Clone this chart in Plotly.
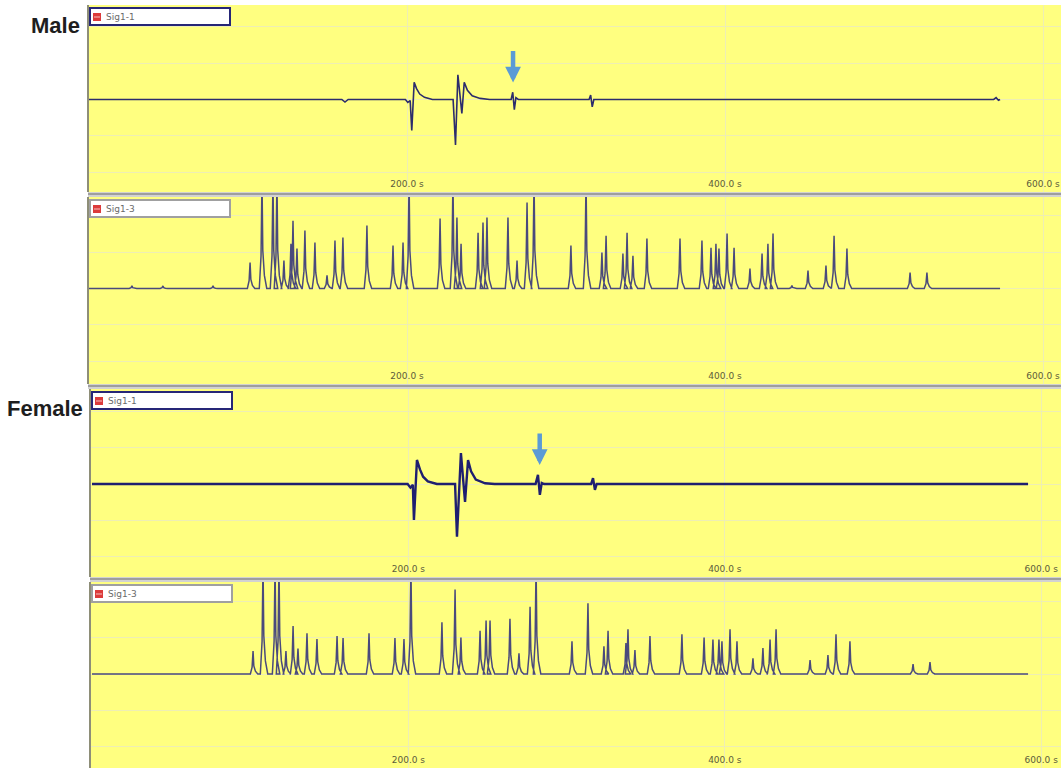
import plotly.graph_objects as go

# ---------------- data ----------------
# Male, Sig1-1: trace vertices (time in s, amplitude in grid divisions)
male_sig11_t = [0, 159, 161, 163, 199, 200.5, 202, 203, 204.5, 206, 208, 211, 216,
                229, 230.5, 232, 234.5, 236, 238, 241, 246, 252,
                265.5, 266.5, 267.5, 268.5, 270, 314.5, 315.5, 316.5, 317.5,
                569, 570.5, 572, 573]
male_sig11_v = [0, 0, -0.07, 0, 0, -0.08, -0.03, -0.85, 0.47, 0.30, 0.15, 0.06, 0.0,
                0, -1.25, 0.68, -0.38, 0.47, 0.25, 0.10, 0.03, 0,
                0, 0.20, -0.28, 0.05, 0, 0, 0.12, -0.20, 0,
                0, 0.05, -0.02, 0]

# Male, Sig1-3: peak times (s) and peak heights (divisions); 3.0 = off the top
male_sig13_peak_t = [27.0, 46.5, 78.0, 101.3, 108.8, 115.7, 118.2, 122.6, 127.0, 128.3,
                     130.8, 135.8, 142.1, 149.7, 154.7, 159.7, 174.8, 191.2, 197.5, 201.3,
                     220.8, 228.9, 231.4, 234.0, 244.7, 247.8, 250.3, 263.5, 269.2, 275.5,
                     279.9, 303.1, 312.6, 322.6, 325.2, 335.8, 338.4, 342.1, 350.9, 371.7,
                     385.5, 391.2, 394.3, 396.2, 401.3, 405.7, 415.7, 423.3, 427.0, 430.2,
                     442.1, 452.2, 463.5, 468.6, 476.7, 516.4, 527.0]
male_sig13_peak_h = [0.07, 0.07, 0.07, 0.71, 3.0, 3.0, 3.0, 0.77, 1.23, 1.86,
                     1.10, 1.59, 1.26, 0.36, 1.32, 1.40, 1.73, 1.18, 1.26, 3.0,
                     1.92, 3.0, 1.95, 1.23, 1.53, 1.81, 1.95, 1.95, 0.77, 2.36,
                     3.0, 1.18, 3.0, 0.99, 1.45, 0.96, 1.53, 0.90, 1.37, 1.37,
                     1.32, 1.12, 1.23, 1.10, 1.51, 1.12, 0.55, 0.96, 1.23, 1.51,
                     0.08, 0.49, 0.63, 1.45, 1.10, 0.44, 0.44]
male_sig13_end = 573

# Female, Sig1-1: trace vertices (time in s, amplitude in grid divisions)
female_sig11_t = [0, 199.5, 201.3, 202.8, 203.5, 205.4, 207.3, 209.3, 212.3, 218,
                  229.5, 230.7, 233.2, 235.8, 237.7, 239.6, 242.6, 248.5, 254.5,
                  280.4, 281.9, 283.1, 284.3, 285.8, 315.5, 316.7, 317.9, 319, 591.7]
female_sig11_v = [0, 0, -0.10, -0.02, -0.99, 0.66, 0.40, 0.20, 0.07, 0,
                  0, -1.45, 0.85, -0.49, 0.66, 0.35, 0.12, 0.02, 0,
                  0, 0.25, -0.30, 0.03, 0, 0, 0.16, -0.16, 0, 0]

# Female, Sig1-3: peak times (s) and peak heights (divisions); 3.0 = off the top
female_sig13_peak_t = [101.8, 108.1, 115.7, 118.2, 122.6, 127.1, 130.2, 135.9, 142.2, 154.9,
                       158.7, 175.1, 191.5, 197.2, 201.6, 221.2, 229.5, 233.2, 245.3, 249.1,
                       251.6, 264.2, 269.9, 276.9, 280.7, 303.4, 313.5, 323.6, 326.2, 337.5,
                       338.8, 343.2, 352.7, 372.9, 386.9, 392.5, 396.3, 398.2, 403.3, 407.7,
                       417.8, 424.1, 428.6, 432.4, 453.9, 465.2, 470.3, 479.1, 519.0, 529.7]
female_sig13_peak_h = [0.63, 3.0, 3.0, 3.0, 0.63, 1.32, 0.70, 1.12, 0.96, 1.04,
                       0.99, 1.12, 0.99, 0.96, 3.0, 1.42, 2.32, 1.00, 1.19, 1.47,
                       1.47, 1.52, 0.57, 1.85, 3.0, 0.90, 1.94, 0.76, 1.19, 0.85,
                       1.23, 0.66, 1.04, 1.09, 1.00, 0.95, 0.95, 0.90, 1.23, 0.90,
                       0.43, 0.71, 0.95, 1.23, 0.38, 0.52, 1.09, 0.90, 0.27, 0.33]
female_sig13_end = 591.7

# marked responses (s) and arrow tip level (divisions)
arrow_t = [266.7, 283.0]
arrow_tip = [0.47, 0.52]

tick_vals = [200, 400, 600]
tick_text = ["200.0 s", "400.0 s", "600.0 s"]
channel_names = ["Sig1-1", "Sig1-3", "Sig1-1", "Sig1-3"]
group_labels = ["Male", "Female"]

# ---------------- layout geometry (pixels) ----------------
W, H = 1061, 768
PX_PER_DIV = 36.4
# (top, bottom, left edge, time-zero x, px per second, baseline) of each strip
panels = [(5, 192, 89, 89, 1.59, 99.5), (197, 384, 89, 89, 1.59, 288.5),
          (389, 577, 91, 92, 1.582, 484), (582, 768, 91, 92, 1.582, 674)]

YELLOW = "#ffff80"
GRID = "#eeeeb4"


def pulse_trace(peak_t, peak_h, t_end):
    xs, ys = [0.0], [0.0]
    for t, h in zip(peak_t, peak_h):
        for dt, f in ((-1.7, 0), (-0.6, 0.3), (0, 1), (0.5, 0.35), (1.5, 0.12), (3.0, 0)):
            xs.append(t + dt)
            ys.append(f * h)
    xs.append(t_end)
    ys.append(0.0)
    return xs, ys


traces = [
    (male_sig11_t, male_sig11_v, "#2c2c6c", 1.6),
    (*pulse_trace(male_sig13_peak_t, male_sig13_peak_h, male_sig13_end), "#4a4a7c", 1.5),
    (female_sig11_t, female_sig11_v, "#1f1f70", 2.4),
    (*pulse_trace(female_sig13_peak_t, female_sig13_peak_h, female_sig13_end), "#4a4a7c", 1.5),
]

fig = go.Figure()
shapes, annotations = [], []


def py(v):
    return 1 - v / H


def px(v):
    return v / W


for i, ((top, bot, left, x0, sc, base), (xs, ys, col, lw)) in enumerate(zip(panels, traces)):
    n = "" if i == 0 else str(i + 1)
    fig.add_trace(go.Scatter(x=xs, y=ys, mode="lines", xaxis="x" + n, yaxis="y" + n,
                             line=dict(color=col, width=lw), hoverinfo="skip",
                             showlegend=False))
    xr = [(left - x0) / sc, (W - x0) / sc]
    yr = [-(bot - base) / PX_PER_DIV, (base - top) / PX_PER_DIV]
    fig.layout["xaxis" + n] = dict(
        domain=[px(left), 1], range=xr, anchor="y" + n,
        tickvals=tick_vals, ticktext=tick_text, ticklabelposition="inside",
        ticklabeloverflow="allow",
        ticks="", showgrid=True, gridcolor=GRID, gridwidth=1, zeroline=False,
        showline=False, tickfont=dict(family="DejaVu Sans", size=9, color="#5c5c3c"),
        fixedrange=True)
    fig.layout["yaxis" + n] = dict(
        domain=[py(bot), py(top)], range=yr, anchor="x" + n,
        tickvals=[-2, -1, 0, 1, 2], showticklabels=False, ticks="",
        showgrid=True, gridcolor=GRID, gridwidth=1, zeroline=False,
        showline=True, linecolor="#8e8e78", linewidth=2, fixedrange=True)

    # channel name box
    sel = i in (0, 2)
    bx0, by0 = left + 1, top + 3
    shapes.append(dict(type="rect", xref="paper", yref="paper",
                       x0=px(bx0), x1=px(bx0 + 140), y0=py(by0 + 17), y1=py(by0),
                       fillcolor="white",
                       line=dict(color="#262677" if sel else "#a0a0a0", width=2)))
    shapes.append(dict(type="rect", xref="paper", yref="paper",
                       x0=px(bx0 + 3), x1=px(bx0 + 11), y0=py(by0 + 13), y1=py(by0 + 5),
                       fillcolor="#dc3b3b", line=dict(width=0)))
    shapes.append(dict(type="line", xref="paper", yref="paper",
                       x0=px(bx0 + 4), x1=px(bx0 + 10), y0=py(by0 + 9), y1=py(by0 + 9),
                       line=dict(color="#f6c0c0", width=1)))
    annotations.append(dict(text=channel_names[i], xref="paper", yref="paper",
                            x=px(bx0 + 14), y=py(by0 + 8.5), xanchor="left",
                            yanchor="middle", showarrow=False,
                            font=dict(family="DejaVu Sans", size=9, color="#6a6a6a")))

    # strip separator below each strip
    if i < 3:
        shapes.append(dict(type="rect", xref="paper", yref="paper",
                           x0=px(left - 1), x1=1, y0=py(bot + 5), y1=py(bot),
                           fillcolor="#d2d2d2", line=dict(width=0)))
        shapes.append(dict(type="line", xref="paper", yref="paper",
                           x0=px(left - 1), x1=1, y0=py(bot + 2), y1=py(bot + 2),
                           line=dict(color="#8c8c8c", width=1.5)))

# arrows marking the responses in the Sig1-1 strips
for t, tip, n in zip(arrow_t, arrow_tip, ["", "3"]):
    annotations.append(dict(x=t, y=tip, xref="x" + n, yref="y" + n, ax=0, ay=-33,
                            showarrow=True, arrowhead=2, arrowsize=0.7,
                            arrowwidth=4.5, arrowcolor="#5b9bd5", text=""))

# group labels
for lbl, cx, cy in zip(group_labels, [55, 45], [25, 408]):
    annotations.append(dict(text="<b>" + lbl + "</b>", xref="paper", yref="paper",
                            x=px(cx), y=py(cy), xanchor="center", yanchor="middle",
                            showarrow=False,
                            font=dict(family="Liberation Sans", size=22, color="#1e1e1e")))

fig.update_layout(width=W, height=H, margin=dict(l=0, r=0, t=0, b=0),
                  paper_bgcolor="white", plot_bgcolor=YELLOW,
                  shapes=shapes, annotations=annotations, showlegend=False)

fig.write_html("out.html", config={"displayModeBar": False})
